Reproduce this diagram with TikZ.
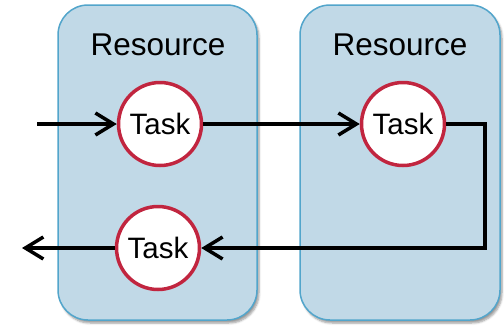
\documentclass[tikz,border=0pt]{standalone}
\usepackage{fontspec}
\setmainfont{Liberation Sans}
\usetikzlibrary{arrows.meta,shadows.blur}
\definecolor{boxfill}{HTML}{C1D9E7}
\definecolor{boxline}{HTML}{52A5CB}
\definecolor{taskred}{HTML}{C1253F}
\tikzset{
  resbox/.style={draw=boxline, line width=1.5pt, fill=boxfill, rounded corners=30pt,
    blur shadow={shadow xshift=2pt, shadow yshift=-3pt, shadow blur steps=5, shadow opacity=40}},
  task/.style={circle, draw=taskred, line width=3.5pt, fill=white, minimum size=83pt, inner sep=0pt,
    font=\fontsize{29.5}{30}\selectfont},
  flow/.style={line width=3.5pt, -{Straight Barb[length=18pt, width=22pt, line width=3.5pt]}},
  restitle/.style={font=\fontsize{31.5}{32}\selectfont}
}
\begin{document}
\begin{tikzpicture}[x=1pt,y=-1pt]
\useasboundingbox (0,0) rectangle (504,327);
\path[resbox] (58,5) rectangle (257,320);
\path[resbox] (300,5) rectangle (500,320);
\node[restitle] (r1) at (158,45) {Resource};
\node[restitle] (r2) at (400,45) {Resource};
\node[task] (t1) at (160,124) {Task};
\node[task] (t2) at (403,124) {Task};
\node[task] (t3) at (158,248) {Task};
\coordinate (in) at (37,124);
\coordinate (out) at (22,248);
\coordinate (turn) at (485,124);
\draw[flow] (in) -- (t1);
\draw[flow] (t1) -- (t2);
\draw[flow] (t2.east) -- (turn) |- (t3.east);
\draw[flow] (t3) -- (out);
\end{tikzpicture}
\end{document}
